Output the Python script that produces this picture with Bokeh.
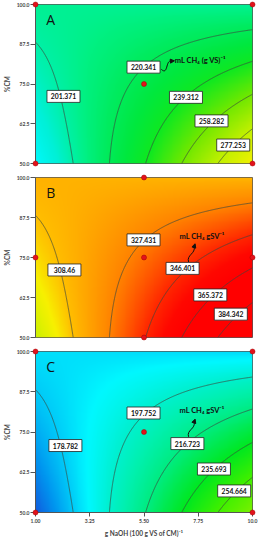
import numpy as np
import contourpy
from bokeh.plotting import figure
from bokeh.layouts import column
from bokeh.models import FixedTicker, Range1d, Arrow, NormalHead
from bokeh.core.properties import value
from bokeh.embed import file_html
from bokeh.resources import INLINE

# ---------------- data ----------------
x_ticks = [1.00, 3.25, 5.50, 7.75, 10.0]
x_tick_labels = ["1.00", "3.25", "5.50", "7.75", "10.0"]
y_ticks = [50.0, 62.5, 75.0, 87.5, 100.0]
y_tick_labels = ["50.0", "62.5", "75.0", "87.5", "100.0"]

levels_A = [201.371, 220.341, 239.312, 258.282, 277.253]
levels_B = [308.46, 327.431, 346.401, 365.372, 384.342]
levels_C = [178.782, 197.752, 216.723, 235.693, 254.664]

# contour traces (level index, g NaOH, %CM)
trace_level = [0, 0, 0, 0, 1, 1, 1, 1, 1, 1, 1, 2, 2, 2, 2, 2, 3, 3, 3, 4, 4]
trace_x = [1.0, 2.02, 2.4, 2.5, 4.03, 4.32, 4.72, 5.27, 6.52, 8.05, 10.0,
           5.6, 6.1, 7.06, 8.7, 10.0, 7.06, 8.05, 10.0, 8.68, 10.0]
trace_y = [85.5, 73.9, 60.4, 50.0, 50.0, 60.4, 70.8, 77.0, 83.3, 89.9, 92.1,
           50.0, 60.4, 71.7, 79.6, 81.5, 50.0, 62.9, 70.8, 50.0, 61.3]

# design points
pts_A_x = [1.0, 10.0, 1.0, 10.0, 5.5]
pts_A_y = [100.0, 100.0, 50.0, 50.0, 75.0]
pts_B_x = [5.5, 1.0, 5.5, 10.0, 5.5]
pts_B_y = [100.0, 75.0, 75.0, 75.0, 50.0]
pts_C_x = [1.0, 10.0, 1.0, 10.0, 5.5]
pts_C_y = [100.0, 100.0, 50.0, 50.0, 75.0]

# contour label positions
lab_A_x = [2.16, 5.48, 7.24, 8.30, 9.20]
lab_A_y = [71.1, 80.3, 70.8, 63.4, 55.8]
lab_B_x = [2.20, 5.48, 7.10, 8.25, 9.10]
lab_B_y = [71.1, 80.5, 71.6, 63.3, 57.3]
lab_C_x = [2.24, 5.48, 7.30, 8.40, 9.24]
lab_C_y = [70.8, 80.9, 71.4, 63.5, 56.7]
lab_B_text = ["308.46", "327.431", "346.401", "365.372", "384.342"]

# colour maps for each panel (response value -> colour)
cmap_A_vals = [183, 193, 201, 209, 217, 228, 240, 258, 277, 295]
cmap_A_cols = ["#00f8f8", "#00f0d8", "#00f0a8", "#00f080", "#00ec62", "#00e840",
               "#10e820", "#70e800", "#c0f000", "#f0f000"]
cmap_B_vals = [290, 300, 308, 318, 327, 337, 346, 356, 365]
cmap_B_cols = ["#d0f000", "#f8f000", "#ffc000", "#ffa000", "#ff8400", "#ff5400",
               "#ff2800", "#ff0800", "#ff0000"]
cmap_C_vals = [160, 170, 179, 187, 197, 207, 217, 226, 236, 254, 275]
cmap_C_cols = ["#1060e0", "#0098f0", "#00ccf8", "#00f8ff", "#00f0d0", "#00f0a8",
               "#00ec80", "#00ea50", "#00e820", "#40f000", "#80f000"]

# ---------------- surface (quadratic response surface through traces) -------
tx = np.array(trace_x)
ty = np.array(trace_y)
tz = np.array([levels_A[i] for i in trace_level])


def basis(x, y):
    u = (x - 5.5) / 4.5
    v = (y - 75.0) / 25.0
    return np.stack([np.ones_like(u), u, v, u * u, v * v, u * v], axis=-1)


coef, *_ = np.linalg.lstsq(basis(tx, ty), tz, rcond=None)

gx = np.linspace(1.0, 10.0, 240)
gy = np.linspace(50.0, 100.0, 180)
GX, GY = np.meshgrid(gx, gy)
ZA = basis(GX, GY) @ coef


def to_rgba(z, vals, cols):
    rgb = np.array([[int(c[1:3], 16), int(c[3:5], 16), int(c[5:7], 16)] for c in cols], float)
    img = np.empty(z.shape, dtype=np.uint32)
    view = img.view(dtype=np.uint8).reshape(z.shape + (4,))
    for k in range(3):
        view[..., k] = np.interp(z, vals, rgb[:, k]).astype(np.uint8)
    view[..., 3] = 255
    return img


FONT = value("Lato")
INK = "#111111"


def panel(levels, offset, cvals, ccols, pts_x, pts_y, lab_x, lab_y, lab_text,
          letter, note, arrow, top, bottom, fh, show_x):
    z = ZA + offset
    p = figure(frame_width=217, frame_height=fh, min_border_left=29,
               min_border_right=7, min_border_top=top, min_border_bottom=bottom,
               x_range=Range1d(1, 10), y_range=Range1d(50, 100),
               output_backend="svg", toolbar_location=None)
    p.image_rgba(image=[to_rgba(z, cvals, ccols)], x=1, y=50, dw=9, dh=50)
    gen = contourpy.contour_generator(gx, gy, z)
    xs, ys = [], []
    for lv in levels:
        for seg in gen.lines(lv):
            xs.append(seg[:, 0].tolist())
            ys.append(seg[:, 1].tolist())
    p.multi_line(xs, ys, line_color="#3c4a40", line_width=0.7)

    p.rect(lab_x, lab_y, width=33, height=12, width_units="screen",
           height_units="screen", fill_color="white", line_color="#222222",
           line_width=0.8)
    p.text(lab_x, lab_y, text=lab_text, text_font=FONT, text_font_style="bold",
           text_font_size="6.8px", text_align="center", text_baseline="middle",
           text_color=INK)

    # panel letter
    p.text([1.45], [98.4], text=[letter], text_font=value("Open Sans"),
           text_font_size="14px", text_baseline="top", text_color=INK)

    # note + curly arrow
    nx, ny, ntext = note
    p.text([nx], [ny], text=[ntext], text_font=FONT, text_font_style="bold",
           text_font_size="7.5px", text_baseline="middle", text_color=INK)
    (x0, y0, cx0, cy0, cx1, cy1, x1, y1, hx, hy) = arrow
    p.bezier(x0=[x0], y0=[y0], x1=[x1], y1=[y1], cx0=[cx0], cy0=[cy0],
             cx1=[cx1], cy1=[cy1], line_color=INK, line_width=1)
    p.add_layout(Arrow(x_start=x1, y_start=y1, x_end=hx, y_end=hy,
                       line_color=INK, line_width=1,
                       end=NormalHead(size=4, fill_color=INK, line_color=INK)))

    r = p.scatter(pts_x, pts_y, size=5, fill_color="#e3121b", line_color="#a00000",
                  line_width=0.5)
    r.level = "overlay"

    p.outline_line_color = "#555555"
    p.outline_line_width = 1
    p.grid.visible = False

    ya = p.yaxis[0]
    ya.ticker = FixedTicker(ticks=y_ticks)
    ya.major_label_overrides = {t: l for t, l in zip(y_ticks, y_tick_labels)}
    ya.axis_label = "%CM"
    ya.axis_label_text_font = "Lato"
    ya.axis_label_text_font_style = "bold"
    ya.axis_label_text_font_size = "6.5px"
    ya.axis_label_standoff = 3
    ya.major_label_text_font = "Lato"
    ya.major_label_text_font_style = "bold"
    ya.major_label_text_font_size = "5px"
    ya.major_label_standoff = 1
    ya.major_tick_out = 5
    ya.major_tick_in = 0
    ya.minor_tick_out = 0
    ya.minor_tick_in = 0
    ya.axis_line_color = "#555555"
    ya.major_tick_line_color = "#555555"

    xa = p.xaxis[0]
    if show_x:
        xa.ticker = FixedTicker(ticks=x_ticks)
        xa.major_label_overrides = {t: l for t, l in zip(x_ticks, x_tick_labels)}
        xa.minor_tick_out = 0
        xa.minor_tick_in = 0
        xa.axis_line_color = "#555555"
        xa.major_tick_line_color = "#555555"
        xa.axis_label = "g NaOH (100 g VS of CM)⁻¹"
        xa.axis_label_text_font = "Lato"
        xa.axis_label_text_font_style = "bold"
        xa.axis_label_text_font_size = "6.5px"
        xa.axis_label_standoff = 4
        xa.major_label_text_font = "Lato"
        xa.major_label_text_font_style = "bold"
        xa.major_label_text_font_size = "5px"
        xa.major_label_standoff = 2
        xa.major_tick_out = 4
        xa.major_tick_in = 0
    else:
        xa.visible = False
    p.background_fill_color = "white"
    p.border_fill_color = "white"
    return p


pA = panel(levels_A, 0.0, cmap_A_vals, cmap_A_cols, pts_A_x, pts_A_y,
           lab_A_x, lab_A_y, [f"{v:.3f}" for v in levels_A], "A",
           (6.78, 82.4, "mL CH₄ (g VS)⁻¹"),
           (6.22, 79.6, 6.50, 77.6, 6.40, 82.6, 6.62, 82.2, 6.76, 82.3),
           4, 7, 159, False)
pB = panel(levels_B, levels_B[0] - levels_A[0], cmap_B_vals, cmap_B_cols,
           pts_B_x, pts_B_y, lab_B_x, lab_B_y, lab_B_text, "B",
           (6.97, 81.6, "mL CH₄ gSV⁻¹"),
           (7.35, 73.6, 7.25, 75.8, 7.65, 76.2, 7.58, 78.4, 7.62, 79.3),
           7, 7, 160, False)
pC = panel(levels_C, levels_C[0] - levels_A[0], cmap_C_vals, cmap_C_cols,
           pts_C_x, pts_C_y, lab_C_x, lab_C_y, [f"{v:.3f}" for v in levels_C], "C",
           (6.97, 81.7, "mL CH₄ gSV⁻¹"),
           (7.35, 73.5, 7.25, 75.6, 7.65, 76.0, 7.58, 78.1, 7.62, 79.0),
           7, 22, 161, True)

layout = column(pA, pB, pC, spacing=0)
open("out.html", "w").write(file_html(layout, INLINE))
